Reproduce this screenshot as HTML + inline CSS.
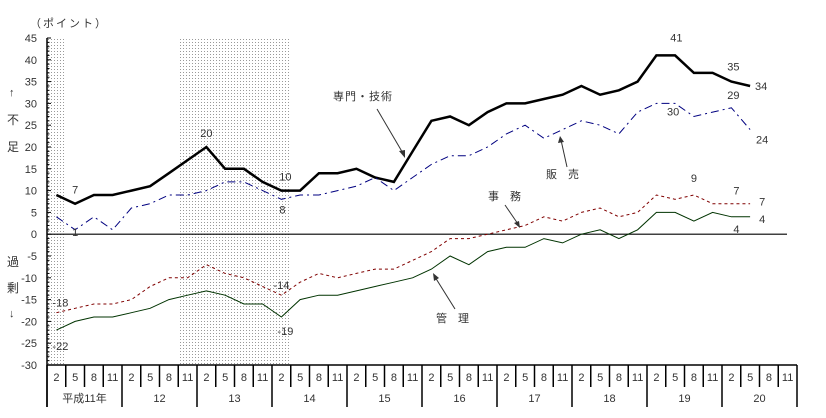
<!DOCTYPE html>
<html><head><meta charset="utf-8"><style>
html,body{margin:0;padding:0;background:#fff;}
svg{display:block;font-family:"Liberation Sans","Noto Sans CJK JP",sans-serif;}
text{fill:#333;font-size:11px;}
</style></head><body>
<svg id="chart" width="826" height="418" viewBox="0 0 826 418" xmlns="http://www.w3.org/2000/svg">
<defs><pattern id="dots" width="3" height="3" patternUnits="userSpaceOnUse"><rect x="0" y="0" width="1" height="1" fill="#999"/></pattern></defs>
<g id="shade"></g>
<g id="axes"></g>
<g id="series"></g>
<g id="labels"></g>
<text x="30" y="27" style="font-size:11px;letter-spacing:2px">（ポイント）</text>
<text x="9" y="96">↑</text>
<text x="7" y="124" style="font-size:12px">不</text>
<text x="7" y="151" style="font-size:12px">足</text>
<text x="7" y="266" style="font-size:12px">過</text>
<text x="7" y="292" style="font-size:12px">剰</text>
<text x="9" y="317">↓</text>
<g>
<text x="333" y="100" style="font-size:11px;letter-spacing:1px">専門・技術</text>
<line x1="377" y1="109" x2="404" y2="155" stroke="#333" stroke-width="1"/>
<polygon points="405,158 399,151 405,150" fill="#333"/>
</g>
<g>
<text x="546" y="178" style="font-size:11px">販　売</text>
<line x1="567" y1="167" x2="561" y2="140" stroke="#333"/>
<polygon points="560,136 558,143 564,142" fill="#333"/>
</g>
<g>
<text x="488" y="200" style="font-size:11px">事　務</text>
<line x1="505" y1="205" x2="518" y2="224" stroke="#333"/>
<polygon points="520,228 514,223 519,221" fill="#333"/>
</g>
<g>
<text x="436" y="322" style="font-size:11px">管　理</text>
<line x1="455" y1="309" x2="435" y2="277" stroke="#333"/>
<polygon points="433,273 434,281 439,278" fill="#333"/>
</g>
</svg>
<script>
const categories = ["2","5","8","11"];
const years = ["平成11年","12","13","14","15","16","17","18","19","20"];
const yTicks = [45,40,35,30,25,20,15,10,5,0,-5,-10,-15,-20,-25,-30];
const professional = [9,7,9,9,10,11,14,17,20,15,15,12,10,10,14,14,15,13,12,19,26,27,25,28,30,30,31,32,34,32,33,35,41,41,37,37,35,34];
const sales = [4,1,4,1,6,7,9,9,10,12,12,10,8,9,9,10,11,13,10,13,16,18,18,20,23,25,22,24,26,25,23,28,30,30,27,28,29,24];
const clerical = [-18,-17,-16,-16,-15,-12,-10,-10,-7,-9,-10,-12,-14,-11,-9,-10,-9,-8,-8,-6,-4,-1,-1,0,1,2,4,3,5,6,4,5,9,8,9,7,7,7];
const transport = [-22,-20,-19,-19,-18,-17,-15,-14,-13,-14,-16,-16,-19,-15,-14,-14,-13,-12,-11,-10,-8,-5,-7,-4,-3,-3,-1,-2,0,1,-1,1,5,5,3,5,4,4];
const shadedRanges = [[0,0],[7,12]];
const pointLabels = [
 ["professional",1,"7",0,-10],["professional",8,"20",0,-10],["professional",12,"10",4,-10],["professional",32,"41",20,-14],["professional",36,"35",2,-11],["professional",37,"34",11,4],
 ["sales",1,"1",0,6],["sales",12,"8",1,14],["sales",33,"30",-2,12],["sales",36,"29",2,-9],["sales",37,"24",12,14],
 ["clerical",0,"-18",4,-6],["clerical",12,"-14",0,-6],["clerical",34,"9",0,-13],["clerical",36,"7",5,-9],["clerical",37,"7",12,2],
 ["transport",0,"-22",4,20],["transport",12,"-19",4,18],["transport",36,"4",5,16],["transport",37,"4",12,6]
];
const X0=47, X1=797, Y_TOP=38, Y_BOT=365, VMAX=45, VMIN=-30;
const N = categories.length*years.length;
const cw=(X1-X0)/N;
function xs(i){return X0+cw*(i+0.5);}
function ys(v){return Y_TOP+(VMAX-v)/(VMAX-VMIN)*(Y_BOT-Y_TOP);}
const NS="http://www.w3.org/2000/svg";
function mk(tag,attrs,parent){const e=document.createElementNS(NS,tag);for(const k in attrs)e.setAttribute(k,attrs[k]);parent.appendChild(e);return e;}
const shade=document.getElementById('shade'), axes=document.getElementById('axes'), ser=document.getElementById('series'), lab=document.getElementById('labels');
shadedRanges.forEach(r=>{
 const e=mk('rect',{x:X0+cw*r[0],y:Y_TOP,width:cw*(r[1]-r[0]+1),height:Y_BOT-Y_TOP,fill:'url(#dots)'},shade);
 
 
});
let e=mk('line',{x1:X0,y1:Y_TOP,x2:X0,y2:407,stroke:'#000','stroke-width':1.5},axes);


for(let v=VMIN;v<=VMAX;v++){
 mk('line',{x1:X0,y1:ys(v),x2:X0+(v%5===0?4:2.5),y2:ys(v),stroke:'#000','stroke-width':1},axes);
}
yTicks.forEach(v=>{
 const t=mk('text',{x:37,y:ys(v)+4,'text-anchor':'end'},axes);
 t.textContent=v;
 
 
});
e=mk('line',{x1:X0,y1:ys(0),x2:787,y2:ys(0),stroke:'#000','stroke-width':1.2},axes);


e=mk('line',{x1:X0,y1:Y_BOT,x2:X1,y2:Y_BOT,stroke:'#000','stroke-width':1.5},axes);


for(let i=0;i<=N;i++){
 const x=X0+cw*i; const yb=(i%categories.length===0)?407:387;
 mk('line',{x1:x,y1:Y_BOT,x2:x,y2:yb,stroke:'#000','stroke-width':1.5},axes);
 if(i<N){
  const t=mk('text',{x:x+cw/2,y:381,'text-anchor':'middle','font-size':'10.5'},axes);
  t.textContent=categories[i%categories.length];
  
  
 }
}
years.forEach((y,k)=>{
 const t=mk('text',{x:X0+cw*categories.length*(k+0.5),y:402,'text-anchor':'middle'},axes);
 t.textContent=y;
 
 
});
const S={
 professional:{d:professional,stroke:'#000',w:2.5,dash:''},
 sales:{d:sales,stroke:'#000080',w:1,dash:'8,4,2,4'},
 clerical:{d:clerical,stroke:'#800000',w:1,dash:'3,3'},
 transport:{d:transport,stroke:'#003300',w:1,dash:''}
};
for(const k in S){
 const s=S[k];
 const pts=s.d.map((v,i)=>xs(i).toFixed(1)+','+ys(v).toFixed(1)).join(' ');
 const p=mk('polyline',{points:pts,fill:'none',stroke:s.stroke,'stroke-width':s.w,'stroke-dasharray':s.dash,'stroke-linejoin':'miter'},ser);
 
 
}
pointLabels.forEach(l=>{
 const v=S[l[0]].d[l[1]];
 const t=mk('text',{x:xs(l[1])+l[3],y:ys(v)+l[4],'text-anchor':'middle'},lab);
 t.textContent=l[2];
 
 
});
</script>
</body></html>
